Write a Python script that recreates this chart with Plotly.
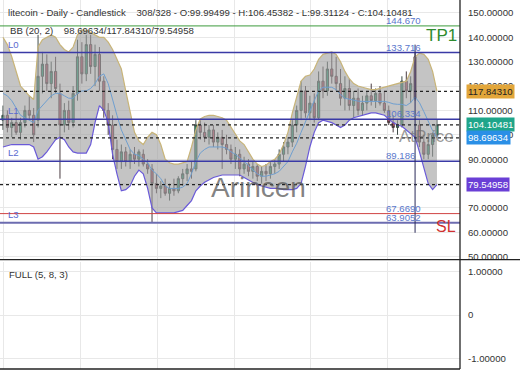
import plotly.graph_objects as go

# ---------------- data ----------------
idx = list(range(100))
open_ = [106,108,103,105,101,105,110,108,106,124,129,121,126,117,104,110,105,117,132,125,
         137,128,133,122,110,104,94,89,93,89,92,90,92,88,86,80,78,79,76,78,
         77,82,84,86,86,104,101,99,102,97,99,96,94,90,92,86,88,85,87,83,
         85,84,87,88,92,95,97,104,110,118,109,113,107,122,118,127,124,121,115,119,
         112,115,110,113,116,114,117,113,110,105,103,104,122,118,132,104,97,92,96,99.99499]
high = [112,110,107,109,107,112,116,111,141,134,133,130,132,121,113,114,120,139,138,141,
        141,137,136,124,113,108,98,96,95,94,95,94,94,90,88,84,81,82,80,82,
        83,86,88,89,106,106,105,104,104,101,102,100,96,95,94,91,90,89,88,87,
        88,89,90,94,97,99,106,112,122,120,116,117,126,128,130,133.716,132,127,124,123,
        118,119,116,118,121,119,120,118,112,108,106,124,126,124,133.716,106,100,98,101,106.45382]
low = [102,101,99,100,98,103,106,97,103,117,118,115,117,82,101,102,103,114,121,122,
       125,120,118,107,100,90,86,86,87,86,88,87,87,84,64,76,74,75,73,75,
       76,79,81,82,85,98,97,96,95,94,86,92,88,86,83,84,83,82,81,80,
       81,82,84,86,89,92,95,101,106,107,106,105,106,115,116,121,118,112,110,110,
       107,108,108,110,112,111,112,109,104,101,100,103,115,113,114,95,90,90,91,99.31124]
close = [108,103,105,101,105,110,108,100,124,129,121,126,119,104,110,105,117,132,125,137,
         128,133,122,110,104,94,89,93,89,92,90,93,88,86,80,78,79,76,78,77,
         82,84,86,85,104,101,99,102,97,99,96,94,90,92,86,88,85,87,83,85,
         84,87,88,92,95,97,104,110,118,109,113,107,122,118,127,124,121,115,119,112,
         115,110,113,116,114,117,113,110,105,103,104,122,118,121,115,97,92,96,99.99499,104.10481]

bb_upper = [140,137,132,126,120,118,116,114.5,136,139,140,141,140,137,135,134,136,141,143,143,
            142,141,140,140,138,135,131,127,118,109,101,97.5,96,99,101,100,96,90,88.5,88,
            88,88.5,89,95,102,106.5,107.5,108,108,107.5,107,106,103,100,97.5,96,93,90,88,87,
            87.5,89,90,92,96,101,109,115,122,124,124.5,127,131,133,133.5,134,133,130,126,123,
            121,120,119.5,119,118.5,118.5,119,119.5,120,120.5,121,121.5,122,126,132,133.5,133,131,126,117.84310]
bb_mid = [117,116,114,111,108,107,106,105,110,112,114,116,117,117,116,115,115,117,118,118,
          119,121,124,125,121,114,108,102,98,94,92,91.5,90,88.5,85.5,84,82,79,78,78,
          78,78.5,80,84,89,92.5,94,95,95,95,95,94.5,93,92,90.5,89,87.5,85.5,84,83,
          83,83.5,84,85,87,89,93,96.5,101,105.5,110,114,118,119.5,119.5,119.5,118.5,116.5,115,114.5,
          114,113.8,113.7,113.7,113.7,113.8,113.8,113.7,113.3,112.7,112.5,112.5,112,113.2,115.5,113.2,109.5,105.5,101.7,98.69634]
bb_lower = [95,95.5,96,96,96,96,96,95,90,91,93,95.5,98,99,98,95,93,92.5,92.5,92.5,
            96,105,112,110,105,92,84,77,77.5,79,83,85.5,84,78,70,68,68,68,68,68,
            68.5,69,71,73,77,79,80.5,81.5,82.5,83,83.5,83.5,83.5,83.5,83.5,82.5,81.5,80.5,79.5,79,
            78.5,78,78,78,77.5,77.5,77.5,78,80,87,95,101,105,106,105.5,105,104,103,104,106,
            107,107.5,108,108.5,109,109,108.5,108,106.5,105,104,103.5,102,100.5,99,93,86,80,77.5,79.54958]

level_values = [144.670, 133.716, 106.334, 89.186, 67.6690, 63.9052]
level_labels = ["144.670", "133.716", "106.334", "89.186", "67.6690", "63.9052"]
level_names = ["L0", "L1", "L2", "L3"]
level_name_values = [133.716, 106.334, 89.186, 63.9052]
dashed_values = [117.84310, 104.10481, 98.69634, 79.54958]
dashed_badges = ["117.84310", "104.10481", "98.69634", "79.54958"]
spike_x = 94
spike_range = [59.8, 137.0]

header = ("litecoin - Daily - Candlestick    308/328 - O:99.99499 - H:106.45382 - "
          "L:99.31124 - C:104.10481")
bb_text = "BB (20, 2)    98.69634/117.84310/79.54958"

FONT = "Liberation Sans"
SMALL = 9.6

# ---------------- figure ----------------
fig = go.Figure()

fig.add_trace(go.Scatter(x=idx, y=bb_upper, mode="lines",
                         line=dict(color="#c8b478", width=1.2), showlegend=False, hoverinfo="skip"))
fig.add_trace(go.Scatter(x=idx, y=bb_lower, mode="lines", fill="tonexty",
                         fillcolor="rgba(160,160,160,0.62)",
                         line=dict(color="#6a5ad8", width=1.2), showlegend=False, hoverinfo="skip"))
fig.add_trace(go.Scatter(x=idx, y=bb_mid, mode="lines",
                         line=dict(color="#6f9fd0", width=1), showlegend=False, hoverinfo="skip"))

fig.add_trace(go.Candlestick(
    x=idx, open=open_, high=high, low=low, close=close,
    increasing=dict(line=dict(color="#3c4a46", width=1), fillcolor="#2aa37a"),
    decreasing=dict(line=dict(color="#4a3c40", width=1), fillcolor="#c8506a"),
    whiskerwidth=0, showlegend=False, xaxis="x", yaxis="y"))

# bottom panel placeholder trace
fig.add_trace(go.Scatter(x=[idx[0], idx[-1]], y=[None, None], mode="lines",
                         xaxis="x2", yaxis="y2", showlegend=False))

shapes = []
line_styles = {
    144.670: dict(color="#3c9a3c", width=1),
    133.716: dict(color="#3a3aa6", width=1.5),
    106.334: dict(color="#3a3aa6", width=1.5),
    89.186: dict(color="#3a3aa6", width=1.5),
    67.6690: dict(color="#d04444", width=1),
    63.9052: dict(color="#6c6cb0", width=2),
}
for v in level_values:
    shapes.append(dict(type="line", xref="x domain", yref="y", x0=0, x1=1, y0=v, y1=v,
                       line=line_styles[v], layer="above"))
for v in dashed_values:
    shapes.append(dict(type="line", xref="x domain", yref="y", x0=0, x1=1, y0=v, y1=v,
                       line=dict(color="#222222", width=1.3, dash="3px,3px"), layer="above"))
shapes.append(dict(type="line", xref="x", yref="y", x0=spike_x, x1=spike_x,
                   y0=spike_range[0], y1=spike_range[1],
                   line=dict(color="#2a2a5a", width=1), layer="above"))
# panel borders
shapes.append(dict(type="line", xref="paper", yref="paper", x0=1, x1=1, y0=0, y1=1,
                   line=dict(color="#222", width=1.3)))
shapes.append(dict(type="line", xref="paper", yref="paper", x0=0, x1=1, y0=0, y1=0,
                   line=dict(color="#222", width=1.3)))
shapes.append(dict(type="line", xref="paper", yref="paper", x0=0, x1=1.15, y0=0.2965, y1=0.2965,
                   line=dict(color="#222", width=1.3)))

ann = []
for v, t in zip(level_values, level_labels):
    ann.append(dict(x=86.8, y=v, xref="x", yref="y", text=t, showarrow=False,
                    xanchor="left", yanchor="bottom", yshift=-2,
                    font=dict(size=SMALL, color="#5a78cc", family=FONT)))
for n, v in zip(level_names, level_name_values):
    ann.append(dict(x=0.012, y=v, xref="paper", yref="y", text=n, showarrow=False,
                    xanchor="left", yanchor="bottom", yshift=1,
                    font=dict(size=SMALL, color="#5a6ad0", family=FONT)))
badge_colors = ["#e2a63a", "#1fa58a", "#2a8fe6", "#6a3fd6"]
badge_font = ["#222", "white", "white", "white"]
for v, t, bc, fc in zip(dashed_values, dashed_badges, badge_colors, badge_font):
    ann.append(dict(x=1, y=v, xref="paper", yref="y", text=t, showarrow=False,
                    xanchor="left", yanchor="middle", xshift=6, bgcolor=bc, borderpad=1,
                    font=dict(size=SMALL, color=fc, family=FONT)))
ann += [
    dict(x=0.013, y=1, xref="paper", yref="paper", text=header, showarrow=False,
         xanchor="left", yanchor="top", yshift=-5,
         font=dict(size=SMALL, color="#333", family=FONT)),
    dict(x=0.017, y=1, xref="paper", yref="paper", text=bb_text, showarrow=False,
         xanchor="left", yanchor="top", yshift=-23,
         font=dict(size=SMALL, color="#333", family=FONT)),
    dict(x=0.015, y=1.0, xref="paper", yref="y2 domain", text="FULL (5, 8, 3)", showarrow=False,
         xanchor="left", yanchor="top", yshift=-5,
         font=dict(size=SMALL, color="#333", family=FONT)),
    dict(x=0.922, y=145.5, xref="paper", yref="y", text="TP1", showarrow=False,
         xanchor="left", yanchor="top",
         font=dict(size=17, color="#2e8b2e", family=FONT)),
    dict(x=0.944, y=66.5, xref="paper", yref="y", text="SL", showarrow=False,
         xanchor="left", yanchor="top",
         font=dict(size=16, color="#d03030", family=FONT)),
    dict(x=0.563, y=78.5, xref="paper", yref="y", text="Arincen", showarrow=False,
         xanchor="center", yanchor="middle",
         font=dict(size=28, color="rgba(90,90,90,0.75)", family=FONT)),
    dict(x=0.863, y=99.5, xref="paper", yref="y", text="AtPrice", showarrow=False,
         xanchor="left", yanchor="middle",
         font=dict(size=17, color="rgba(110,110,110,0.7)", family=FONT)),
]

grid_col = "#e8e8e8"
fig.update_layout(
    width=520, height=390,
    margin=dict(l=0, r=60, t=0, b=21),
    paper_bgcolor="white", plot_bgcolor="white",
    showlegend=False,
    shapes=shapes, annotations=ann,
    xaxis=dict(domain=[0, 1], range=[-0.68, 104.25], anchor="y",
               showticklabels=False, showgrid=True, gridcolor=grid_col,
               tick0=17.6, dtick=17.55, zeroline=False, rangeslider=dict(visible=False),
               showline=False),
    yaxis=dict(domain=[0.2965, 1], range=[48.8, 155.3], side="right",
               tickvals=[50, 60, 70, 80, 90, 100, 110, 120, 130, 140, 150],
               ticktext=["50.00000", "60.00000", "70.00000", "80.00000", "90.00000",
                         "100.00000", "110.00000", "120.00000", "130.00000",
                         "140.00000", "150.00000"],
               showgrid=True, gridcolor=grid_col, zeroline=False,
               tickfont=dict(size=SMALL, color="#333", family=FONT),
               ticks="", ticklabelstandoff=7),
    xaxis2=dict(domain=[0, 1], range=[-0.68, 104.25], anchor="y2",
                showticklabels=False, showgrid=True, gridcolor=grid_col,
                tick0=17.6, dtick=17.55, zeroline=False),
    yaxis2=dict(domain=[0, 0.29], range=[-1.25, 1.23], side="right",
                tickvals=[-1, 0, 1], ticktext=["-1.00000", "0", "1.00000"],
                showgrid=True, gridcolor=grid_col, zeroline=False,
                tickfont=dict(size=SMALL, color="#333", family=FONT),
                ticks="", ticklabelstandoff=7),
)

fig.write_html("out.html", config={"displayModeBar": False},
               post_script="document.body.style.margin='0';document.body.style.padding='0';")
